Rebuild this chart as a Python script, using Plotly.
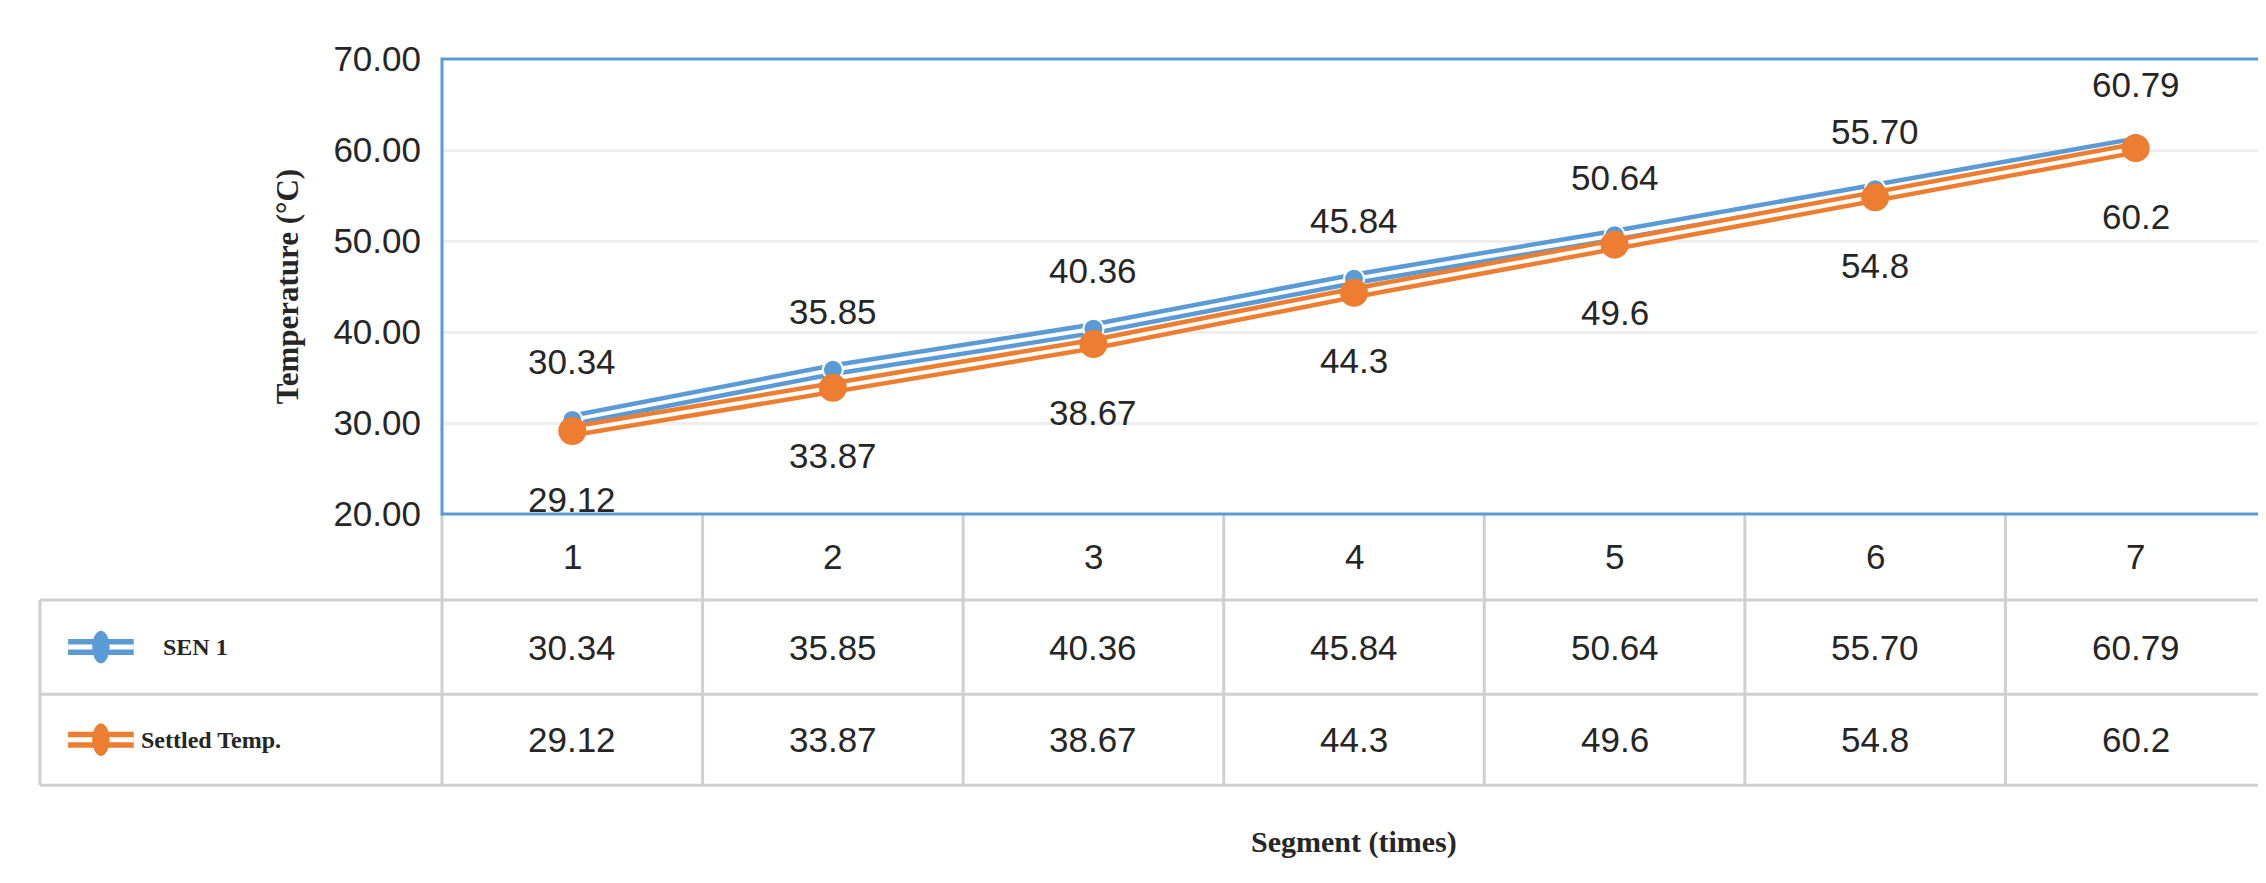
import plotly.graph_objects as go

segments = [1, 2, 3, 4, 5, 6, 7]
sen1 = [30.34, 35.85, 40.36, 45.84, 50.64, 55.70, 60.79]
settled = [29.12, 33.87, 38.67, 44.3, 49.6, 54.8, 60.2]
sen1_text = ["30.34", "35.85", "40.36", "45.84", "50.64", "55.70", "60.79"]
settled_text = ["29.12", "33.87", "38.67", "44.3", "49.6", "54.8", "60.2"]
series_names = ["SEN 1", "Settled Temp."]

BLUE = "#5b9bd5"
ORANGE = "#ed7d31"
GRID = "#d0d0d0"
NUM_FONT = dict(family="Liberation Sans", size=35, color="#262626")

fig = go.Figure()

# double (compound) lines: thick colour, thin white centre
for ys, col, msize, mline in [(sen1, BLUE, 20, "white"), (settled, ORANGE, 26, ORANGE)]:
    fig.add_trace(go.Scatter(x=segments, y=ys, mode="lines",
                             line=dict(color=col, width=13), showlegend=False, hoverinfo="skip"))
    fig.add_trace(go.Scatter(x=segments, y=ys, mode="lines+markers",
                             line=dict(color="white", width=4),
                             marker=dict(size=msize, color=col, line=dict(color=mline, width=2)),
                             showlegend=False))

ann = []
for i, s in enumerate(segments):
    ann.append(dict(x=s, y=sen1[i], text=sen1_text[i], showarrow=False, yshift=58, font=NUM_FONT,
                    xanchor="center", yanchor="middle"))
    ann.append(dict(x=s, y=settled[i], text=settled_text[i], showarrow=False, yshift=-68, font=NUM_FONT,
                    xanchor="center", yanchor="middle"))

# data table below the plot (paper coordinates)
n = len(segments)
leg_left = -0.2204
row_y = [0, -0.189, -0.396, -0.596]
shapes = []
line_style = dict(color=GRID, width=3)
for yv in row_y[1:]:
    shapes.append(dict(type="line", xref="paper", yref="paper", x0=leg_left, x1=1, y0=yv, y1=yv, line=line_style))
shapes.append(dict(type="line", xref="paper", yref="paper", x0=leg_left, x1=leg_left,
                   y0=row_y[1], y1=row_y[3], line=line_style))
for k in range(n + 1):
    shapes.append(dict(type="line", xref="paper", yref="paper", x0=k / n, x1=k / n,
                       y0=0, y1=row_y[3], line=line_style))
# plot area border
shapes.append(dict(type="rect", xref="paper", yref="paper", x0=0, x1=1, y0=0, y1=1,
                   line=dict(color=BLUE, width=3)))

for i, s in enumerate(segments):
    xc = (i + 0.5) / n
    for r, txt in enumerate([str(s), sen1_text[i], settled_text[i]]):
        ann.append(dict(x=xc, y=(row_y[r] + row_y[r + 1]) / 2, xref="paper", yref="paper", text=txt,
                        showarrow=False, font=NUM_FONT, xanchor="center", yanchor="middle"))

# legend keys inside table
for r, (name, col) in enumerate(zip(series_names, [BLUE, ORANGE])):
    yc = (row_y[r + 1] + row_y[r + 2]) / 2
    x0, x1 = -0.205, -0.169
    shapes.append(dict(type="line", xref="paper", yref="paper", x0=x0, x1=x1, y0=yc, y1=yc,
                       line=dict(color=col, width=16)))
    shapes.append(dict(type="line", xref="paper", yref="paper", x0=x0, x1=x1, y0=yc, y1=yc,
                       line=dict(color="white", width=5)))
    shapes.append(dict(type="circle", xref="paper", yref="paper", x0=-0.1915, x1=-0.1825,
                       y0=yc - 0.035, y1=yc + 0.035, fillcolor=col, line=dict(color=col, width=1)))
    ann.append(dict(x=-0.135 if r == 0 else -0.166, y=yc, xref="paper", yref="paper", text="<b>%s</b>" % name,
                    showarrow=False, xanchor="center" if r == 0 else "left", yanchor="middle",
                    font=dict(family="Liberation Serif", size=24, color="#262626")))

ann.append(dict(x=0.5, y=-0.721, xref="paper", yref="paper", text="<b>Segment (times)</b>",
                showarrow=False, xanchor="center", yanchor="middle",
                font=dict(family="Liberation Serif", size=30, color="#262626")))

fig.update_layout(
    width=2266, height=883,
    paper_bgcolor="white", plot_bgcolor="white",
    margin=dict(l=434, r=8, t=51, b=377),
    xaxis=dict(range=[0.5, 7.5], showticklabels=False, showgrid=False, zeroline=False),
    yaxis=dict(range=[20, 70], dtick=10, tickformat=".2f", showgrid=True, gridcolor="#eeeeee",
               gridwidth=3, zeroline=False, tickfont=NUM_FONT, ticks="", ticklabelstandoff=20,
               title=dict(text="<b>Temperature (°C)</b>", standoff=25,
                          font=dict(family="Liberation Serif", size=31, color="#262626"))),
    shapes=shapes, annotations=ann,
)

fig.write_html("out.html")
